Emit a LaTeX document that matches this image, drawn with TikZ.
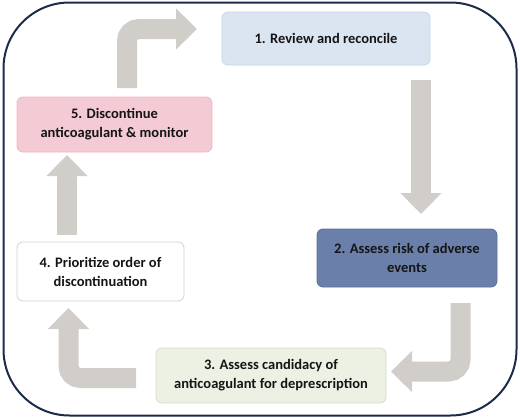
\documentclass[tikz,border=0pt]{standalone}
\usepackage{fontspec}
\setmainfont{Carlito}
\usetikzlibrary{arrows.meta}
\definecolor{frame}{HTML}{1C2B4A}
\definecolor{arrowgrey}{HTML}{D1CECA}
\definecolor{fillA}{HTML}{DAE5F1}\definecolor{lineA}{HTML}{C7D5E6}
\definecolor{fillB}{HTML}{6A7FA9}\definecolor{lineB}{HTML}{5B6F99}
\definecolor{fillC}{HTML}{ECF1E3}\definecolor{lineC}{HTML}{D5DCC8}
\definecolor{fillD}{HTML}{FFFFFF}\definecolor{lineD}{HTML}{D3D3D3}
\definecolor{fillE}{HTML}{F4CBD4}\definecolor{lineE}{HTML}{EAB8C3}
\definecolor{txt}{HTML}{151515}
\tikzset{
  stepbox/.style={rounded corners=6pt, line width=0.8pt, inner sep=0pt, align=center,
    text=txt, font=\fontsize{14.5}{19}\selectfont\bfseries},
  bigarrow/.style={draw=arrowgrey, line width=20pt, rounded corners=12pt,
    -{Triangle[length=21pt,width=40pt]}, arrowgrey}
}
\begin{document}
\begin{tikzpicture}[x=1pt,y=-1pt]
\useasboundingbox (0,0) rectangle (520,418);
\draw[frame, line width=2pt, rounded corners=66pt] (3.5,2.5) rectangle (516.5,415.5);

\node[stepbox, fill=fillA, draw=lineA, minimum width=208pt, minimum height=53pt] (b1) at (326,38.5) {1. Review and reconcile};
\node[stepbox, fill=fillB, draw=lineB, minimum width=180pt, minimum height=58pt] (b2) at (407,258) {2. Assess risk of adverse\\events};
\node[stepbox, fill=fillC, draw=lineC, minimum width=230pt, minimum height=55pt] (b3) at (271,375.5) {3. Assess candidacy of\\anticoagulant for deprescription};
\node[stepbox, fill=fillD, draw=lineD, minimum width=167pt, minimum height=59pt] (b4) at (100.5,271.5) {4. Prioritize order of\\discontinuation};
\node[stepbox, fill=fillE, draw=lineE, minimum width=195pt, minimum height=55pt] (b5) at (114.5,124.5) {5. Discontinue\\anticoagulant \& monitor};

% free ends of the block arrows
\coordinate (a12s) at (421,80);   \coordinate (a12e) at (421,214);
\coordinate (a23s) at (460.5,303); \coordinate (a23c) at (460.5,371.5); \coordinate (a23e) at (391,371.5);
\coordinate (a34s) at (136,378);  \coordinate (a34c) at (68.5,378);   \coordinate (a34e) at (68.5,308);
\coordinate (a45s) at (67,235);   \coordinate (a45e) at (67,155);
\coordinate (a51s) at (127,88);   \coordinate (a51c) at (127,29);     \coordinate (a51e) at (197,29);

\draw[bigarrow] (a12s) -- (a12e);
\draw[bigarrow] (a23s) -- (a23c) -- (a23e);
\draw[bigarrow] (a34s) -- (a34c) -- (a34e);
\draw[bigarrow] (a45s) -- (a45e);
\draw[bigarrow] (a51s) -- (a51c) -- (a51e);
\end{tikzpicture}
\end{document}
